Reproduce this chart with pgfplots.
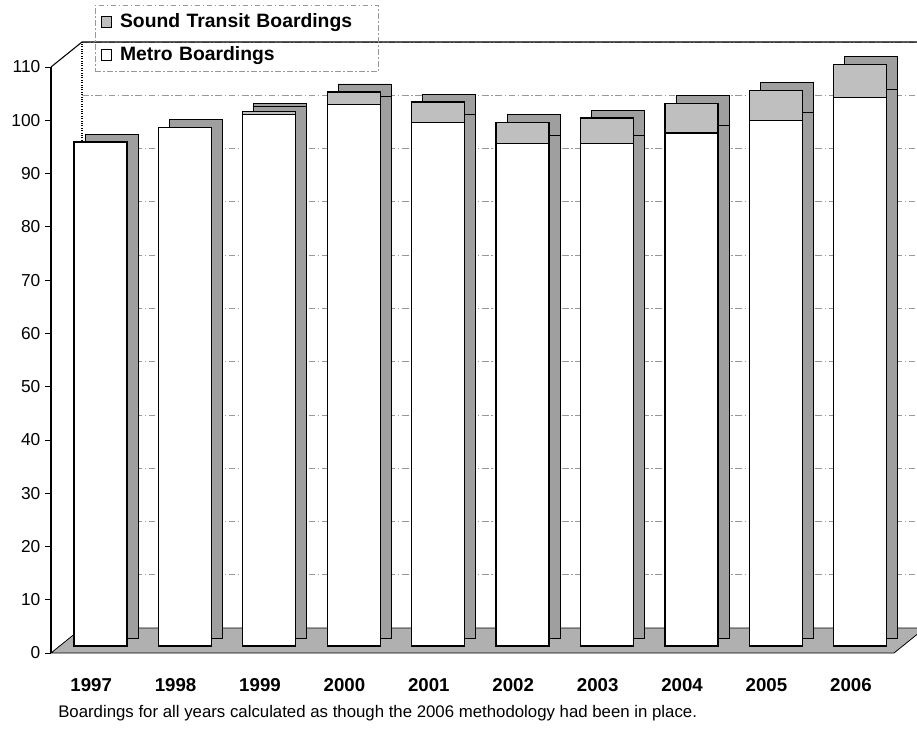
\documentclass[border=0pt]{standalone}
\usepackage{pgfplots}
\usepackage{pgfplotstable}
\pgfplotsset{compat=1.18}
\usepackage{fontspec}
\setmainfont{Liberation Sans}

% boardings in millions
\pgfplotstableread{
year metro st
0 94.6 0.0
1 97.4 0.0
2 99.8 0.6
3 101.6 2.4
4 98.3 3.8
5 94.4 3.9
6 94.4 4.7
7 96.3 5.6
8 98.7 5.6
9 103.0 6.2
}\boardings

\pgfplotsset{
  frame/.style={scale only axis, width=632.25pt, height=439.5pt,
    xmin=-0.5865, xmax=9.40, ymin=0, ymax=110, clip=false},
  legend image code/.code={\draw[#1, draw=black, line width=0.6pt] (0pt,-4pt) rectangle (8pt,4pt);},
}

\begin{document}
\begin{tikzpicture}
% walls, floor, ticks and legend
\begin{axis}[frame,
  axis x line*=bottom, axis y line*=left,
  x axis line style={draw=none}, xtick style={draw=none},
  y axis line style={line width=1pt},
  ytick={0,10,...,110}, ytick style={black, line width=0.6pt},
  tick align=outside, major tick length=4.5pt,
  ymajorgrids,
  major grid style={gray!80, line width=0.5pt, dash pattern=on 5pt off 2pt on 1pt off 2pt, xshift=23.25pt, yshift=18.75pt},
  xtick={0,...,9},
  xticklabels={1997,1998,1999,2000,2001,2002,2003,2004,2005,2006},
  xticklabel style={font=\fontsize{14}{16}\selectfont\bfseries, anchor=base, yshift=-24pt, xshift=-7pt},
  yticklabel style={font=\fontsize{13}{15}\selectfont},
  /pgf/number format/assume math mode=true,
  legend style={at={(0.0522,1.1058)}, anchor=north west, fill=none,
    draw=gray!80, dash pattern=on 4pt off 2pt on 1pt off 2pt,
    font=\fontsize{14.5}{17}\selectfont\bfseries, row sep=8.5pt, column sep=4pt,
    inner xsep=4pt, inner ysep=4.5pt,
    nodes={text width=188pt, align=left}},
  legend cell align=left,
]
\fill[gray!62, draw=black, line width=0.6pt]
  (axis cs:-0.5865,0) -- (axis cs:9.40,0) -- (axis cs:9.7673,4.693)
  -- (axis cs:-0.2192,4.693) -- cycle;
\draw[black, line width=0.8pt, densely dotted]
  (axis cs:-0.2192,4.693) -- (axis cs:-0.2192,114.693);
\draw[black, line width=0.8pt]
  (axis cs:-0.5865,110) -- (axis cs:-0.2192,114.693) -- (axis cs:9.674,114.693);
\addlegendimage{fill=gray!50}
\addlegendentry{Sound Transit Boardings}
\addlegendimage{fill=white}
\addlegendentry{Metro Boardings}
\coordinate (bbSW) at (rel axis cs:-0.0605,-0.13652);
\coordinate (bbNE) at (rel axis cs:1.02728,1.11433);
\node[anchor=base west, inner sep=0pt, font=\fontsize{12.6}{14}\selectfont] at (rel axis cs:0.0083,-0.1092)
  {Boardings for all years calculated as though the 2006 methodology had been in place.};
\end{axis}
% depth of the columns
\begin{axis}[frame, hide axis, ybar stacked, bar width=39.75pt, xshift=8.25pt, yshift=11.25pt]
\addplot[fill=gray!75, draw=black, line width=0.6pt] table[x=year, y=metro] {\boardings};
\addplot[fill=gray!75, draw=black, line width=0.6pt] table[x=year, y=st] {\boardings};
\end{axis}
% front faces of the columns
\begin{axis}[frame, hide axis, ybar stacked, bar width=39.75pt, yshift=5.25pt]
\addplot[fill=white, draw=black, line width=0.9pt] table[x=year, y=metro] {\boardings};
\addplot[fill=gray!50, draw=black, line width=0.9pt] table[x=year, y=st] {\boardings};
\end{axis}
\pgfresetboundingbox
\path[use as bounding box] (bbSW) rectangle (bbNE);
\end{tikzpicture}
\end{document}
